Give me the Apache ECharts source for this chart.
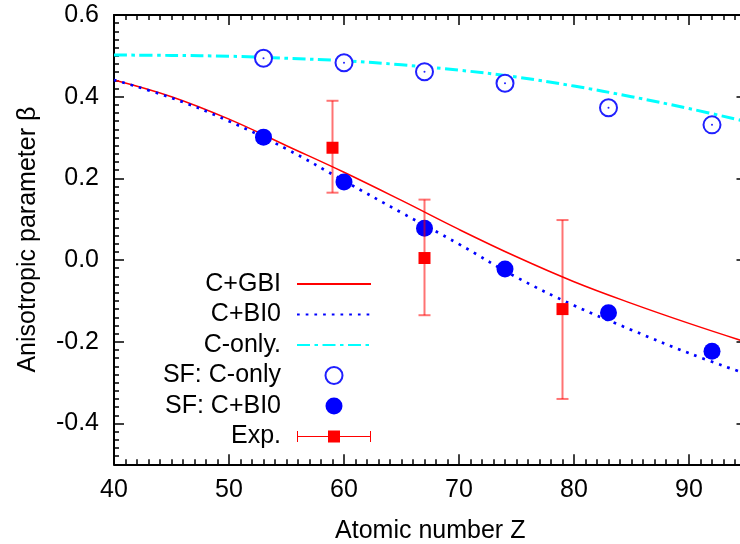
<!DOCTYPE html>
<html><head><meta charset="utf-8">
<script src="https://cdn.jsdelivr.net/npm/echarts@6/dist/echarts.min.js"></script>
<style>html,body{margin:0;padding:0;background:#fff}#c{width:740px;height:544px}</style>
</head><body><div id="c"></div>
<script>
// ---- data ----
const zGrid   = [40, 45, 50, 55, 60, 65, 70, 75, 80, 85, 90, 95];
const cGBI    = [0.441, 0.400, 0.345, 0.280, 0.215, 0.146, 0.075, 0.008, -0.053, -0.106, -0.155, -0.201];
const cBI0    = [0.441, 0.397, 0.340, 0.272, 0.194, 0.116, 0.039, -0.042, -0.111, -0.171, -0.228, -0.279];
const cOnly   = [0.502, 0.501, 0.499, 0.494, 0.488, 0.478, 0.465, 0.448, 0.426, 0.400, 0.371, 0.339];
const sfZ     = [53, 60, 67, 74, 83, 92];
const sfCOnly = [0.494, 0.483, 0.461, 0.433, 0.373, 0.331];
const sfCBI0  = [0.301, 0.191, 0.078, -0.022, -0.129, -0.223];
const expZ    = [59, 67, 79];
const expVal  = [0.275, 0.005, -0.120];
const expLow  = [0.165, -0.135, -0.340];
const expHigh = [0.390, 0.148, 0.098];
const xTicks  = [40, 50, 60, 70, 80, 90];
const yTicks  = [-0.4, -0.2, 0.0, 0.2, 0.4, 0.6];

const FONT = "'Liberation Sans', Arial, Helvetica, sans-serif";
const FS = 25;
const XMIN = 40, XMAX = 95, YMIN = -0.5, YMAX = 0.6;

function pairs(xs, ys) { return xs.map((x, i) => [x, ys[i]]); }

function majorX(pos, withLabels) {
  return {
    type: 'value', position: pos, min: XMIN, max: XMAX, interval: 10, offset: 0,
    axisLine: { show: true, onZero: false, lineStyle: { color: '#000', width: 2 } },
    axisTick: { show: true, inside: true, length: 10, customValues: xTicks, lineStyle: { color: '#000', width: 1.5 } },
    axisLabel: { show: withLabels, customValues: xTicks, margin: 13, fontFamily: FONT, fontSize: FS, color: '#000' },
    splitLine: { show: false }, minorTick: { show: false }
  };
}
function minorX(pos) {
  return {
    type: 'value', position: pos, min: XMIN, max: XMAX, interval: 1, offset: 0,
    axisLine: { show: false, onZero: false },
    axisTick: { show: true, inside: true, length: 5, lineStyle: { color: '#000', width: 1.5 } },
    axisLabel: { show: false }, splitLine: { show: false }
  };
}
function majorY(pos, withLabels) {
  return {
    type: 'value', position: pos, min: YMIN, max: YMAX, interval: 0.1, offset: 0,
    axisLine: { show: true, onZero: false, lineStyle: { color: '#000', width: 2 } },
    axisTick: { show: true, inside: true, length: 10, customValues: yTicks, lineStyle: { color: '#000', width: 1.5 } },
    axisLabel: { show: withLabels, customValues: yTicks, margin: 15, fontFamily: FONT, fontSize: FS, color: '#000',
                 formatter: v => Number(v).toFixed(1) },
    splitLine: { show: false }
  };
}
function minorY(pos) {
  return {
    type: 'value', position: pos, min: YMIN, max: YMAX, interval: 0.02, offset: 0,
    axisLine: { show: false, onZero: false },
    axisTick: { show: true, inside: true, length: 5, lineStyle: { color: '#000', width: 1.5 } },
    axisLabel: { show: false }, splitLine: { show: false }
  };
}

const xb = majorX('bottom', true);
xb.name = 'Atomic number Z'; xb.nameLocation = 'middle'; xb.nameGap = 54;
xb.nameTextStyle = { fontFamily: FONT, fontSize: FS, color: '#000' };
const yl = majorY('left', true);
yl.name = 'Anisotropic parameter β'; yl.nameLocation = 'middle'; yl.nameGap = 73.5;
yl.nameTextStyle = { fontFamily: FONT, fontSize: FS, color: '#000' };

const expIcon = 'path://M0,0.5L1,0.5L1,5.5L31,5.5L31,0L43,0L43,5.5L73,5.5L73,0.5L74,0.5L74,11.5L73,11.5L73,6.5L43,6.5L43,12L31,12L31,6.5L1,6.5L1,11.5L0,11.5Z';
const noSym = { opacity: 0 };

const option = {
  animation: false,
  backgroundColor: '#fff',
  grid: { left: 114, top: 15, width: 632.5, height: 449.3, containLabel: false, outerBoundsMode: 'none' },
  xAxis: [xb, minorX('bottom'), majorX('top', false), minorX('top')],
  yAxis: [yl, minorY('left'), majorY('right', false), minorY('right')],
  legend: {
    orient: 'vertical', align: 'right', right: 368, top: 271.5, padding: 0,
    itemGap: 5.5, itemWidth: 74, itemHeight: 17, selectedMode: false,
    textStyle: { fontFamily: FONT, fontSize: FS, color: '#000', lineHeight: 25, padding: [0, 11, 0, 0] },
    data: [
      { name: 'C+GBI', itemStyle: noSym },
      { name: 'C+BI0', itemStyle: noSym },
      { name: 'C-only.', itemStyle: noSym },
      'SF: C-only', 'SF: C+BI0',
      { name: 'Exp.', icon: expIcon }
    ]
  },
  series: [
    { name: 'C+GBI', type: 'line', data: pairs(zGrid, cGBI), smooth: 0.4,
      symbol: 'none', itemStyle: { color: '#ff0000' }, lineStyle: { color: '#ff0000', width: 1.5 }, z: 2 },
    { name: 'C+BI0', type: 'line', data: pairs(zGrid, cBI0), smooth: 0.4,
      symbol: 'none', itemStyle: { color: '#0000ff' }, lineStyle: { color: '#0000ff', width: 2.7, type: [2.7, 6], cap: 'butt' }, z: 2 },
    { name: 'C-only.', type: 'line', data: pairs(zGrid, cOnly), smooth: 0.4,
      symbol: 'none', itemStyle: { color: '#00ffff' }, lineStyle: { color: '#00ffff', width: 3, type: [13, 4.5, 3.5, 4.5], cap: 'butt' }, z: 2 },
    { name: 'SF: C-only', type: 'scatter', data: pairs(sfZ, sfCOnly), symbol: 'emptyCircle', symbolSize: 17,
      itemStyle: { color: '#2020ff', borderWidth: 1.3, opacity: 1 }, z: 3 },
    { name: 'SF: C-only centre', type: 'scatter', data: pairs(sfZ, sfCOnly), symbol: 'circle', symbolSize: 2,
      itemStyle: { color: '#2020ff', opacity: 1 }, z: 4 },
    { name: 'SF: C+BI0', type: 'scatter', data: pairs(sfZ, sfCBI0), symbol: 'circle', symbolSize: 17,
      itemStyle: { color: '#0000ff', opacity: 1 }, z: 3 },
    { name: 'Exp. error', type: 'custom', z: 4,
      data: expZ.map((z, i) => [z, expLow[i], expHigh[i]]),
      encode: { x: 0, y: [1, 2] },
      renderItem: function (params, api) {
        const x = api.value(0);
        const pLo = api.coord([x, api.value(1)]);
        const pHi = api.coord([x, api.value(2)]);
        const hw = 6;
        const style = { stroke: 'rgba(255,0,0,0.55)', lineWidth: 2 };
        return { type: 'group', children: [
          { type: 'line', shape: { x1: pLo[0], y1: pLo[1], x2: pHi[0], y2: pHi[1] }, style: style },
          { type: 'line', shape: { x1: pLo[0] - hw, y1: pLo[1], x2: pLo[0] + hw, y2: pLo[1] }, style: style },
          { type: 'line', shape: { x1: pHi[0] - hw, y1: pHi[1], x2: pHi[0] + hw, y2: pHi[1] }, style: style }
        ] };
      } },
    { name: 'Exp.', type: 'scatter', data: pairs(expZ, expVal), symbol: 'rect', symbolSize: 12,
      itemStyle: { color: '#ff0000', opacity: 1 }, z: 5 }
  ]
};
const chart = echarts.init(document.getElementById('c'), null, { renderer: 'canvas' });
chart.setOption(option);
</script>
</body></html>
